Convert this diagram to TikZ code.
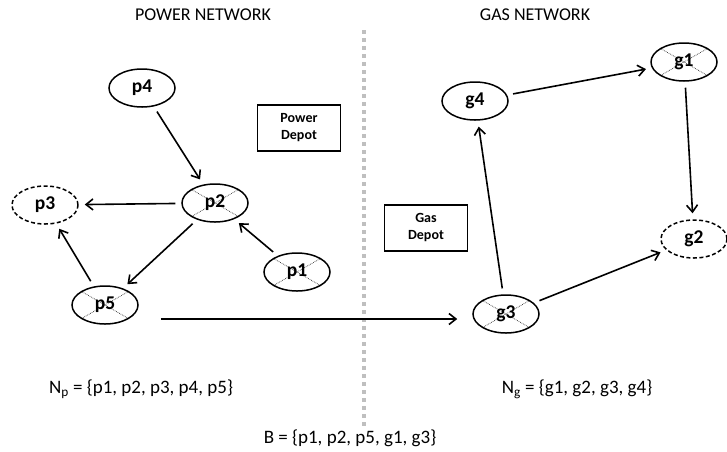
\documentclass[tikz,border=0pt]{standalone}
\usepackage{fontspec}
\setmainfont{Carlito}
\usetikzlibrary{shapes.geometric,arrows.meta}
\begin{document}
\begin{tikzpicture}[x=1pt,y=-1pt,
  nd/.style={ellipse,draw,line width=1.5pt,minimum width=66pt,minimum height=38pt,inner sep=0pt,
    font=\fontsize{19.5}{21}\selectfont\bfseries},
  lost/.style={nd,dashed,dash pattern=on 4pt off 2.5pt},
  crossed/.style={nd,path picture={\draw[densely dotted,line width=0.7pt,black!80]
    (path picture bounding box.north west) -- (path picture bounding box.south east)
    (path picture bounding box.north east) -- (path picture bounding box.south west);}},
  depot/.style={draw,line width=1.3pt,minimum width=83pt,minimum height=46pt,align=center,
    font=\fontsize{14}{17}\selectfont\bfseries},
  edge/.style={line width=1.6pt,-{Straight Barb[length=7pt,width=11pt,line width=1.6pt]},shorten >=6pt,shorten <=6pt},
  title/.style={font=\fontsize{18}{20}\selectfont},
  set/.style={font=\fontsize{19}{22}\selectfont}]
\useasboundingbox (0,0) rectangle (727,451);
% divider
\draw[gray!50,line width=4pt,dash pattern=on 4pt off 4pt] (364,30) -- (364,426);
% titles
\node[title] (tp) at (203,15) {POWER NETWORK};
\node[title] (tg) at (535,15) {GAS NETWORK};
% power nodes
\node[nd] (p4) at (142,88) {p4};
\node[crossed] (p2) at (215,203) {p2};
\node[lost] (p3) at (45,205) {p3};
\node[crossed] (p1) at (297,272) {p1};
\node[crossed] (p5) at (105,305) {p5};
\node[depot] (pd) at (299,128) {Power\\Depot};
% gas nodes
\node[nd] (g4) at (475,101) {g4};
\node[crossed] (g1) at (684,62) {g1};
\node[lost] (g2) at (694,239) {g2};
\node[crossed] (g3) at (506,314) {g3};
\node[depot] (gd) at (426,228) {Gas\\Depot};
% edges
\draw[edge] (p4) -- (p2);
\draw[edge] (p2) -- (p3);
\draw[edge] (p2) -- (p5);
\draw[edge] (p5) -- (p3);
\draw[edge] (p1) -- (p2);
\draw[edge] (g4) -- (g1);
\draw[edge] (g1) -- (g2);
\draw[edge] (g3) -- (g4);
\draw[edge] (g3) -- (g2);
\draw[edge,shorten <=0pt,shorten >=0pt] ([xshift=22pt,yshift=-14pt]p5.east) -- ([xshift=-15pt,yshift=-5pt]g3.west);
% sets
\node[set] (np) at (141,389) {N\textsubscript{p} = \{p1, p2, p3, p4, p5\}};
\node[set] (ng) at (577,389) {N\textsubscript{g} = \{g1, g2, g3, g4\}};
\node[set] (bb) at (350,438) {B = \{p1, p2, p5, g1, g3\}};
\end{tikzpicture}
\end{document}
